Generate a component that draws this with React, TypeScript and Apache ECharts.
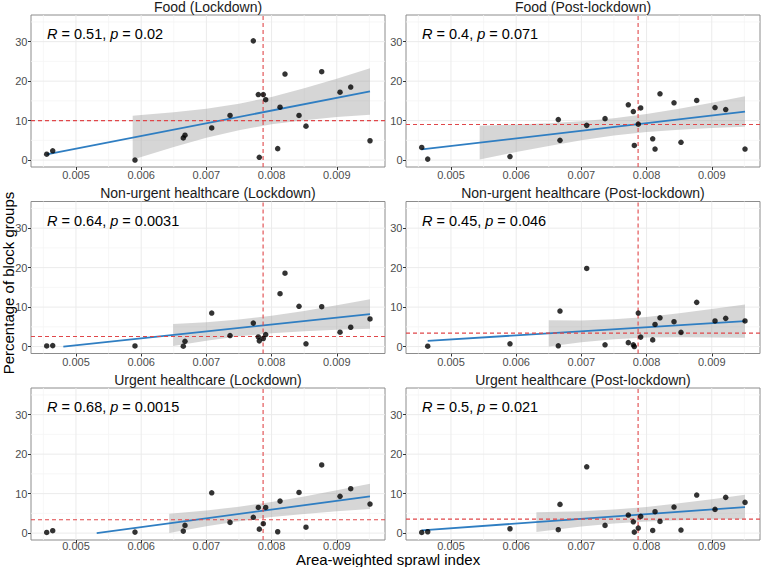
import React, { useEffect, useRef } from "react";
import * as echarts from "echarts";

const FONT = '"Liberation Sans", Arial, Helvetica, sans-serif';

const panelTitles = [
  "Food (Lockdown)",
  "Food (Post-lockdown)",
  "Non-urgent healthcare (Lockdown)",
  "Non-urgent healthcare (Post-lockdown)",
  "Urgent healthcare (Lockdown)",
  "Urgent healthcare (Post-lockdown)",
];
const rValues = ["0.51", "0.4", "0.64", "0.45", "0.68", "0.5"];
const pValues = ["0.02", "0.071", "0.0031", "0.046", "0.0015", "0.021"];

const xTicks = [0.005, 0.006, 0.007, 0.008, 0.009];
const xMinorGrid = [0.0045, 0.0055, 0.0065, 0.0075, 0.0085, 0.0095];
const yTicks = [0, 10, 20, 30];
const yMinorGrid = [5, 15, 25, 35];

const sprawlIndex = [
  0.004551, 0.004643, 0.005905, 0.006646, 0.006672, 0.007082, 0.007363, 0.00772, 0.007797, 0.007812,
  0.007873, 0.00791, 0.008094, 0.00813, 0.008206, 0.008421, 0.008528, 0.008769, 0.00905, 0.009214, 0.00951,
];

const foodLockdown = [1.5, 2.35, 0, 5.6, 6.3, 8.15, 11.3, 30.2, 16.6, 0.7, 16.6, 15.3, 2.9, 13.4, 21.8, 11.3, 8.6, 22.4, 17.2, 18.5, 4.9];
const foodPost = [3.2, 0.25, 0.9, 10.25, 5.0, 8.8, 10.5, 14.0, 12.3, 3.7, 9.1, 13.2, 5.4, 2.8, 16.8, 14.5, 4.5, 15.1, 13.3, 12.8, 2.8];
const nonUrgentLockdown = [0.17, 0.25, 0.17, 0.1, 1.35, 8.5, 2.8, 5.95, 2.45, 1.45, 2.05, 3.05, null, 13.4, 18.6, 10.2, 0.7, 10.1, 3.65, 4.9, 7.0];
const nonUrgentPost = [null, 0.1, 0.7, 0.2, 9.0, 19.8, 0.45, 1.0, 0.45, 0.0, 8.5, 2.4, 1.7, 5.6, 7.3, 6.3, 3.6, 11.2, 6.5, 7.15, 6.5];
const urgentLockdown = [0.17, 0.6, 0.25, 0.5, 1.95, 10.2, 2.7, 4.0, 6.5, 1.0, 2.37, 6.5, 0.34, 8.1, null, 10.3, 1.5, 17.25, 9.3, 11.25, 7.35];
const urgentPost = [0.17, 0.34, 1.1, 0.85, 7.27, 16.8, 1.95, 4.56, 2.87, 0.25, 1.27, 4.23, 0.68, 5.41, 2.96, 6.6, 0.76, 9.64, 6.0, 9.05, 7.78];

const panelValues = [foodLockdown, foodPost, nonUrgentLockdown, nonUrgentPost, urgentLockdown, urgentPost];

// reference lines
const medianSprawl = 0.00787;
const hLines = [10.0, 9.03, 2.55, 3.4, 3.38, 3.55];

// fitted regression line end points
const fitStartX = [0.004551, 0.004551, 0.004806, 0.004643, 0.005318, 0.004551];
const fitStartY = [1.43, 2.7, 0, 1.44, 0, 0.68];
const fitEndX = [0.00951, 0.00951, 0.00951, 0.00951, 0.00951, 0.00951];
const fitEndY = [17.4, 12.3, 8.24, 6.46, 9.3, 6.6];

// confidence bands
const bandXA = [0.00587, 0.006, 0.0065, 0.007, 0.0075, 0.008, 0.0085, 0.009, 0.00951];
const bandLoA = [0.11, 0.79, 3.32, 5.64, 7.59, 9.07, 10.12, 10.89, 11.51];
const bandHiA = [11.25, 11.41, 12.1, 13.0, 14.27, 16.01, 18.18, 20.63, 23.29];

const bandXB = [0.00544, 0.006, 0.0065, 0.007, 0.0075, 0.008, 0.0085, 0.009, 0.00951];
const bandLoB = [0.15, 2.02, 3.58, 5.02, 6.21, 7.1, 7.7, 8.11, 8.42];
const bandHiB = [8.69, 9.0, 9.36, 9.86, 10.61, 11.66, 13.0, 14.51, 16.18];

const bandXC = [0.00649, 0.007, 0.0075, 0.008, 0.0085, 0.009, 0.00951];
const bandLoC = [0.15, 1.5, 2.59, 3.39, 3.9, 4.25, 4.49];
const bandHiC = [5.75, 6.18, 6.85, 7.81, 9.04, 10.45, 11.99];

const bandXD = [0.0065, 0.007, 0.0075, 0.008, 0.0085, 0.009, 0.00951];
const bandLoD = [0.05, 1.1, 1.88, 2.29, 2.39, 2.3, 2.26];
const bandHiD = [6.65, 6.64, 6.9, 7.51, 8.45, 9.55, 10.66];

const bandXE = [0.00643, 0.007, 0.0075, 0.008, 0.0085, 0.009, 0.00951];
const bandLoE = [0.03, 1.72, 3.01, 4.05, 4.86, 5.51, 6.08];
const bandHiE = [4.91, 5.74, 6.67, 7.85, 9.26, 10.83, 12.52];

const bandXF = [0.00631, 0.007, 0.0075, 0.008, 0.0085, 0.009, 0.00951];
const bandLoF = [0.29, 1.65, 2.43, 2.96, 3.27, 3.42, 3.48];
const bandHiF = [5.27, 5.55, 5.97, 6.64, 7.53, 8.56, 9.72];

const bandX = [bandXA, bandXB, bandXC, bandXD, bandXE, bandXF];
const bandLo = [bandLoA, bandLoB, bandLoC, bandLoD, bandLoE, bandLoF];
const bandHi = [bandHiA, bandHiB, bandHiC, bandHiD, bandHiE, bandHiF];

// layout
const colLeft = [31, 406];
const rowTop = [15, 201.5, 388];
const panelW = 354;
const panelH = 152;
const X_MIN = 0.00431;
const X_MAX = 0.00974;
const Y_MIN = -1.75;
const Y_MAX = 36.75;

const RED = "#e0474a";
const MAJOR = "#ebebeb";
const MINOR = "#f5f5f5";

function segSeries(i: number, data: number[][], color: string, width: number, type: any, z: number) {
  return {
    type: "line",
    xAxisIndex: i,
    yAxisIndex: i,
    data,
    showSymbol: false,
    symbol: "none",
    silent: true,
    z,
    color,
    lineStyle: { color, width, type },
  };
}

export default function App() {
  const ref = useRef<HTMLDivElement>(null);

  useEffect(() => {
    if (!ref.current) return;
    const chart = echarts.init(ref.current, null, { renderer: "svg" });

    const grids: any[] = [];
    const xAxes: any[] = [];
    const yAxes: any[] = [];
    const series: any[] = [];
    const graphics: any[] = [];

    for (let i = 0; i < 6; i++) {
      const col = i % 2;
      const row = Math.floor(i / 2);
      const left = colLeft[col];
      const top = rowTop[row];
      grids.push({
        left,
        top,
        width: panelW,
        height: panelH,
        show: true,
        backgroundColor: "#ffffff",
        borderColor: "#8c8c8c",
        borderWidth: 1,
        containLabel: false,
      });
      xAxes.push({
        type: "value",
        gridIndex: i,
        min: X_MIN,
        max: X_MAX,
        axisLine: { show: false, onZero: false },
        splitLine: { show: false },
        axisTick: { show: true, length: 3, customValues: xTicks, lineStyle: { color: "#333333", width: 1 } },
        axisLabel: {
          customValues: xTicks,
          formatter: (v: number) => v.toFixed(3),
          color: "#4d4d4d",
          fontSize: 11,
          fontFamily: FONT,
          margin: row === 2 ? 0.5 : 2.5,
        },
      });
      yAxes.push({
        type: "value",
        gridIndex: i,
        min: Y_MIN,
        max: Y_MAX,
        axisLine: { show: false, onZero: false },
        splitLine: { show: false },
        axisTick: { show: true, length: 3, customValues: yTicks, lineStyle: { color: "#333333", width: 1 } },
        axisLabel: {
          customValues: yTicks,
          formatter: (v: number) => String(v),
          color: "#4d4d4d",
          fontSize: 11,
          fontFamily: FONT,
          margin: 3.5,
        },
      });

      // grid lines (drawn as line series so they stay beneath the marks)
      xMinorGrid.forEach((v) => series.push(segSeries(i, [[v, Y_MIN], [v, Y_MAX]], MINOR, 0.8, "solid", 1)));
      yMinorGrid.forEach((v) => series.push(segSeries(i, [[X_MIN, v], [X_MAX, v]], MINOR, 0.8, "solid", 1)));
      xTicks.forEach((v) => series.push(segSeries(i, [[v, Y_MIN], [v, Y_MAX]], MAJOR, 1, "solid", 1)));
      yTicks.forEach((v) => series.push(segSeries(i, [[X_MIN, v], [X_MAX, v]], MAJOR, 1, "solid", 1)));

      // confidence band
      const bx = bandX[i];
      const blo = bandLo[i];
      const bhi = bandHi[i];
      series.push({
        type: "custom",
        xAxisIndex: i,
        yAxisIndex: i,
        silent: true,
        z: 2,
        data: bx.map((x, k) => [x, blo[k], bhi[k]]),
        encode: { x: 0, y: [1, 2] },
        renderItem: (params: any, api: any) => {
          if (params.dataIndex !== 0) return null;
          const upper = bx.map((x, k) => api.coord([x, bhi[k]]));
          const lower = bx.map((x, k) => api.coord([x, blo[k]])).reverse();
          return {
            type: "polygon",
            shape: { points: upper.concat(lower) },
            style: { fill: "rgba(153,153,153,0.4)", stroke: "none" },
          };
        },
      });

      // regression line
      series.push(
        segSeries(i, [[fitStartX[i], fitStartY[i]], [fitEndX[i], fitEndY[i]]], "#2f7ec2", 1.8, "solid", 3)
      );

      // dashed reference lines
      series.push(segSeries(i, [[medianSprawl, Y_MIN], [medianSprawl, Y_MAX]], RED, 1.1, [4, 3], 4));
      series.push(segSeries(i, [[X_MIN, hLines[i]], [X_MAX, hLines[i]]], RED, 1.1, [4, 3], 4));

      // points
      const ys = panelValues[i];
      series.push({
        type: "scatter",
        xAxisIndex: i,
        yAxisIndex: i,
        data: sprawlIndex
          .map((x, k) => [x, ys[k]])
          .filter((d) => d[1] !== null && d[1] !== undefined),
        symbol: "circle",
        symbolSize: 5.5,
        silent: true,
        z: 5,
        itemStyle: { color: "#000000" },
      });

      // facet title
      graphics.push({
        type: "text",
        z: 50,
        x: left + panelW / 2,
        y: top - 8.5,
        style: {
          text: panelTitles[i],
          fill: "#1a1a1a",
          fontSize: 14,
          fontFamily: FONT,
          align: "center",
          verticalAlign: "middle",
          textAlign: "center",
          textVerticalAlign: "middle",
        },
      });
      // correlation annotation
      graphics.push({
        type: "text",
        z: 50,
        x: left + 16,
        y: top + 19,
        style: {
          text: `{i|R} = ${rValues[i]}, {i|p} = ${pValues[i]}`,
          rich: { i: { fontStyle: "italic", fontSize: 14.5, fontFamily: FONT, fill: "#000000" } },
          fill: "#000000",
          fontSize: 14.5,
          fontFamily: FONT,
          align: "left",
          verticalAlign: "middle",
          textAlign: "left",
          textVerticalAlign: "middle",
        },
      });
    }

    // axis titles
    graphics.push({
      type: "text",
      z: 50,
      x: 388,
      y: 559.5,
      style: {
        text: "Area-weighted sprawl index",
        fill: "#000000",
        fontSize: 15,
        fontFamily: FONT,
        align: "center",
        verticalAlign: "middle",
        textAlign: "center",
        textVerticalAlign: "middle",
      },
    });
    graphics.push({
      type: "text",
      z: 50,
      x: 8,
      y: 283,
      rotation: Math.PI / 2,
      style: {
        text: "Percentage of block groups",
        fill: "#000000",
        fontSize: 15,
        fontFamily: FONT,
        align: "center",
        verticalAlign: "middle",
        textAlign: "center",
        textVerticalAlign: "middle",
      },
    });

    chart.setOption({
      animation: false,
      backgroundColor: "#ffffff",
      grid: grids,
      xAxis: xAxes,
      yAxis: yAxes,
      series,
      graphic: { elements: graphics },
    });

    return () => {
      chart.dispose();
    };
  }, []);

  return (
    <div
      ref={ref}
      style={{ position: "fixed", left: 0, top: 0, width: 762, height: 567 }}
    />
  );
}
